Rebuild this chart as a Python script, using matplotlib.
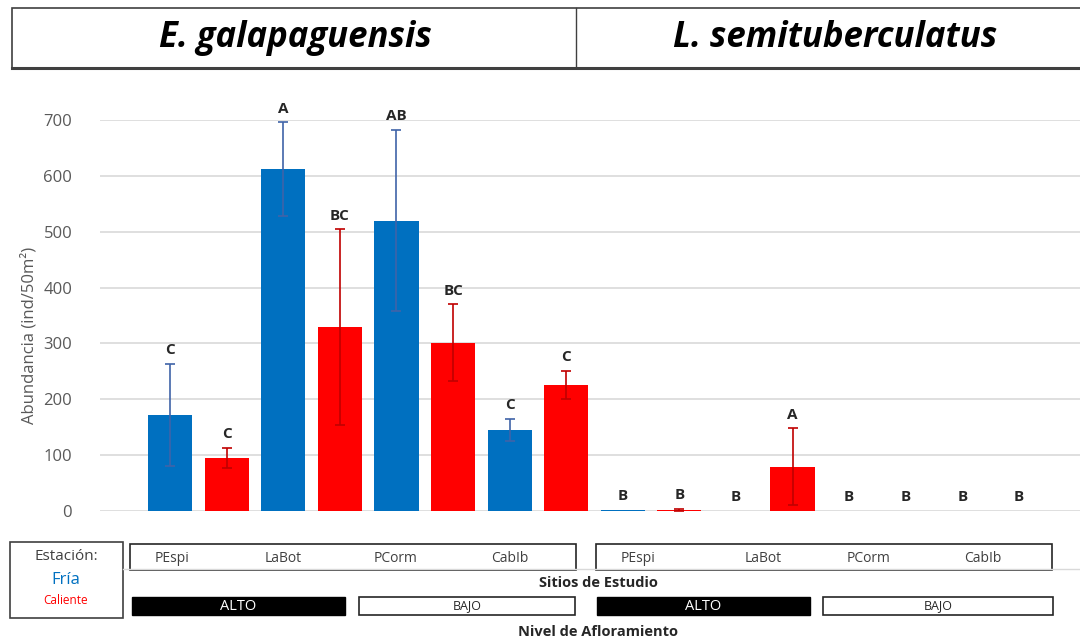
import matplotlib

matplotlib.use("Agg")
import matplotlib.pyplot as plt
from matplotlib.patches import Rectangle
from matplotlib.lines import Line2D

# --- data ---------------------------------------------------------------
species = ["E. galapaguensis", "L. semituberculatus"]
sites = ["PEspi", "LaBot", "PCorm", "CabIb"]
upwelling = ["ALTO", "BAJO"]

fria_egal = [172, 612, 520, 145]
fria_egal_err = [91, 84, 162, 20]
cal_egal = [95, 329, 301, 226]
cal_egal_err = [18, 175, 69, 25]

fria_lsem = [2, 0, 0, 0]
fria_lsem_err = [0, 0, 0, 0]
cal_lsem = [2, 79, 0, 0]
cal_lsem_err = [2, 69, 0, 0]

letters_fria_egal = ["C", "A", "AB", "C"]
letters_cal_egal = ["C", "BC", "BC", "C"]
letters_fria_lsem = ["B", "B", "B", "B"]
letters_cal_lsem = ["B", "A", "B", "B"]

BLUE = "#0070C0"
RED = "#FF0000"
BLUE_ERR = "#3F63A8"
RED_ERR = "#C00000"
GRID = "#D9D9D9"
TXT = "#595959"
FONT = ["Open Sans", "DejaVu Sans"]

W, H = 1080, 644
plt.rcParams["font.family"] = FONT


def fx(x):
    return x / W


def fy(y):
    return 1 - y / H


fig = plt.figure(figsize=(W / 100, H / 100), dpi=100)
ax = fig.add_axes([fx(100), fy(511), fx(1080) - fx(100), fy(120) - fy(511)])

# interleave: per species, per site -> fria, caliente
vals, errs, cols, ecols, labs = [], [], [], [], []
for fv, fe, cv, ce, fl, cl in [
    (fria_egal, fria_egal_err, cal_egal, cal_egal_err, letters_fria_egal, letters_cal_egal),
    (fria_lsem, fria_lsem_err, cal_lsem, cal_lsem_err, letters_fria_lsem, letters_cal_lsem),
]:
    for i in range(len(sites)):
        vals += [fv[i], cv[i]]
        errs += [fe[i], ce[i]]
        cols += [BLUE, RED]
        ecols += [BLUE_ERR, RED_ERR]
        labs += [fl[i], cl[i]]

xs = list(range(len(vals)))
ax.bar(xs, vals, width=0.78, color=cols, zorder=3)
for x, v, e, ec, lab in zip(xs, vals, errs, ecols, labs):
    if e > 0:
        ax.errorbar(x, v, yerr=e, fmt="none", ecolor=ec, elinewidth=1.2,
                    capsize=3.5, capthick=1.2, zorder=4)
    ax.text(x, v + e + 12, lab, ha="center", va="bottom", fontsize=11,
            fontweight="bold", color="#262626", zorder=5)

ax.set_xlim(-1.24, 16.08)
ax.set_ylim(0, 700)
ax.set_yticks(range(0, 701, 100))
ax.set_xticks([])
ax.yaxis.grid(True, color=GRID, lw=1.2, zorder=0)
ax.set_axisbelow(True)
for s in ax.spines.values():
    s.set_visible(False)
ax.tick_params(axis="y", length=0, labelsize=12, labelcolor=TXT, pad=20)
ax.set_ylabel("Abundancia (ind/50m²)", fontsize=12, color=TXT)
ax.yaxis.set_label_coords(-0.064, 0.45)

# --- title boxes ----------------------------------------------------------
def box(x0, y0, x1, y1, fc="white", ec="black", lw=1.0):
    fig.add_artist(Rectangle((fx(x0), fy(y1)), fx(x1) - fx(x0), fy(y0) - fy(y1),
                             transform=fig.transFigure, facecolor=fc, edgecolor=ec,
                             linewidth=lw, zorder=1))


def hline(x0, x1, y, color, lw):
    fig.add_artist(Line2D([fx(x0), fx(x1)], [fy(y), fy(y)], transform=fig.transFigure,
                          color=color, lw=lw, zorder=2))


box(12, 8, 1082, 68, ec="#404040", lw=1.2)
hline(12, 1080, 68, "#404040", 2.2)
fig.add_artist(Line2D([fx(576), fx(576)], [fy(8), fy(68)], transform=fig.transFigure,
                      color="#404040", lw=1.0))
fig.text(fx(295), fy(38), species[0], ha="center", va="center", fontsize=25,
         fontweight="bold", fontstyle="italic", color="black")
fig.text(fx(835), fy(38), species[1], ha="center", va="center", fontsize=25,
         fontweight="bold", fontstyle="italic", color="black")

# --- bottom legend / category boxes --------------------------------------
hline(123, 1080, 569, GRID, 1.0)

box(10, 542, 123, 618, ec="#404040", lw=1.2)
fig.text(fx(66), fy(557), "Estación:", ha="center", va="center", fontsize=11, color="#404040")
fig.text(fx(66), fy(580), "Fría", ha="center", va="center", fontsize=12, color=BLUE)
fig.text(fx(66), fy(601), "Caliente", ha="center", va="center", fontsize=8.5, color=RED)

site_boxes = [(130, 576), (596, 1052)]
site_label_x = [[172, 283, 396, 510], [638, 763, 869, 983]]
for (x0, x1), lx in zip(site_boxes, site_label_x):
    box(x0, 544, x1, 570, ec="#262626", lw=1.2)
    for name, x in zip(sites, lx):
        fig.text(fx(x), fy(559), name, ha="center", va="center", fontsize=10, color="#404040")

fig.text(fx(598), fy(583), "Sitios de Estudio", ha="center", va="center", fontsize=10.5,
         fontweight="bold", color="#262626")

level_boxes = [(132, 345), (359, 575), (597, 810), (823, 1053)]
for i, (x0, x1) in enumerate(level_boxes):
    name = upwelling[i % 2]
    if name == "ALTO":
        box(x0, 597, x1, 615, fc="black", ec="black", lw=1.0)
        fig.text(fx((x0 + x1) / 2), fy(606), name, ha="center", va="center",
                 fontsize=10.5, color="white")
    else:
        box(x0, 597, x1, 615, fc="white", ec="#262626", lw=1.2)
        fig.text(fx((x0 + x1) / 2), fy(606), name, ha="center", va="center",
                 fontsize=9, color="#262626")

fig.text(fx(598), fy(632), "Nivel de Afloramiento", ha="center", va="center", fontsize=10.5,
         fontweight="bold", color="#262626")

fig.savefig("out.png", dpi=100)
